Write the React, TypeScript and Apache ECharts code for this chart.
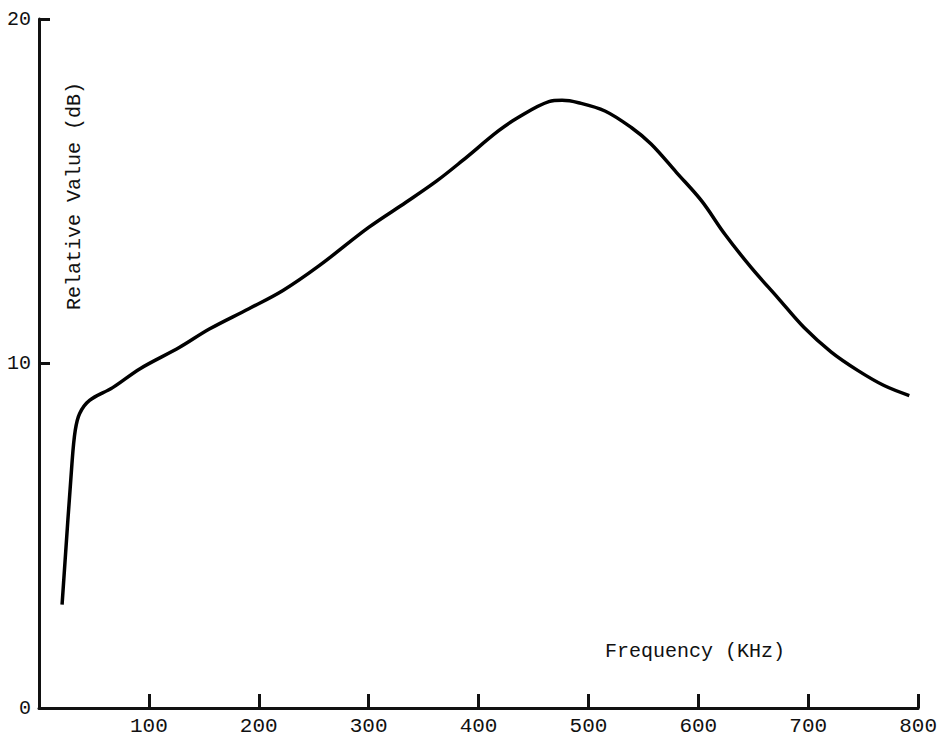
import React, { useEffect, useRef } from "react";
import * as echarts from "echarts";

const frequencyKHz = [21, 30, 33, 37, 46, 67, 92, 128, 155, 191, 222, 255, 300, 334, 362, 385, 418, 436, 464, 476, 491, 515, 539, 557, 580, 603, 624, 648, 672, 696, 721, 745, 769, 792];
const relativeDb = [3.0, 7.1, 8.06, 8.55, 8.93, 9.3, 9.85, 10.47, 11.0, 11.59, 12.12, 12.84, 13.95, 14.68, 15.3, 15.88, 16.75, 17.14, 17.6, 17.64, 17.57, 17.33, 16.85, 16.37, 15.55, 14.72, 13.76, 12.79, 11.92, 11.05, 10.33, 9.8, 9.36, 9.07];
const xTitle = "Frequency (KHz)";
const yTitle = "Relative Value (dB)";

const FONT = "'Liberation Mono', 'DejaVu Sans Mono', monospace";

export default function App() {
  const ref = useRef<HTMLDivElement>(null);
  useEffect(() => {
    document.body.style.margin = "0";
    if (!ref.current) return;
    const chart = echarts.init(ref.current, undefined, { renderer: "svg" });
    const data = frequencyKHz.map((f, i) => [f, relativeDb[i]]);
    chart.setOption({
      animation: false,
      backgroundColor: "#fff",
      grid: { left: 39, right: 19, top: 19, bottom: 33, containLabel: false },
      xAxis: {
        type: "value",
        min: 0,
        max: 800,
        interval: 100,
        axisLine: { lineStyle: { color: "#111", width: 3 } },
        axisTick: { inside: true, length: 14, lineStyle: { color: "#111", width: 3 } },
        axisLabel: { showMinLabel: false, margin: 8, fontSize: 21, color: "#111", fontFamily: FONT },
        splitLine: { show: false },
      },
      yAxis: {
        type: "value",
        min: 0,
        max: 20,
        interval: 10,
        axisLine: { show: true, lineStyle: { color: "#111", width: 3 } },
        axisTick: { show: true, inside: true, length: 11, lineStyle: { color: "#111", width: 3 } },
        axisLabel: { margin: 8, fontSize: 20, color: "#111", fontFamily: FONT },
        splitLine: { show: false },
      },
      graphic: [
        {
          type: "text",
          x: 695,
          y: 651,
          style: { text: xTitle, fontSize: 20, fontFamily: FONT, fill: "#111", align: "center", verticalAlign: "middle" },
        },
        {
          type: "text",
          x: 74,
          y: 196,
          rotation: Math.PI / 2,
          style: { text: yTitle, fontSize: 20, fontFamily: FONT, fill: "#111", align: "center", verticalAlign: "middle" },
        },
      ],
      series: [
        {
          type: "line",
          data,
          showSymbol: false,
          smooth: 0.35,
          lineStyle: { color: "#000", width: 3.5 },
        },
      ],
    });
    return () => chart.dispose();
  }, []);
  return <div ref={ref} style={{ width: 940, height: 741 }} />;
}
